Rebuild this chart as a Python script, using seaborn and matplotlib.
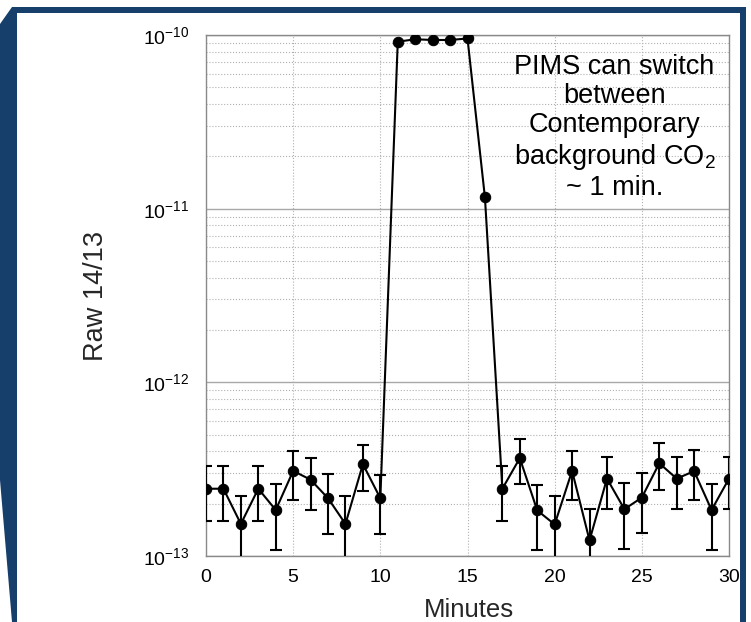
import numpy as np
import pandas as pd
import matplotlib
matplotlib.use("Agg")
import matplotlib.pyplot as plt
from matplotlib.patches import Polygon
from matplotlib.ticker import LogLocator, NullFormatter
import seaborn as sns

# Data
minutes = list(range(31))
raw_ratio = [2.44e-13, 2.44e-13, 1.53e-13, 2.44e-13, 1.84e-13, 3.09e-13, 2.75e-13,
             2.15e-13, 1.53e-13, 3.38e-13, 2.15e-13, 9.15e-11, 9.45e-11, 9.36e-11,
             9.36e-11, 9.55e-11, 1.16e-11, 2.44e-13, 3.66e-13, 1.83e-13, 1.52e-13,
             3.09e-13, 1.23e-13, 2.79e-13, 1.86e-13, 2.17e-13, 3.42e-13, 2.79e-13,
             3.08e-13, 1.84e-13, 2.79e-13]
err_high = [3.3e-13, 3.3e-13, 2.22e-13, 3.3e-13, 2.6e-13, 4.03e-13, 3.67e-13,
            2.95e-13, 2.22e-13, 4.38e-13, 2.94e-13, np.nan, np.nan, np.nan,
            np.nan, np.nan, np.nan, 3.31e-13, 4.72e-13, 2.58e-13, 2.22e-13,
            4.04e-13, 1.86e-13, 3.71e-13, 2.63e-13, 3.0e-13, 4.46e-13, 3.71e-13,
            4.06e-13, 2.59e-13, 3.71e-13]
err_low = [1.58e-13, 1.6e-13, 0.8e-13, 1.6e-13, 1.09e-13, 2.1e-13, 1.84e-13,
           1.34e-13, 0.8e-13, 2.36e-13, 1.34e-13, np.nan, np.nan, np.nan,
           np.nan, np.nan, np.nan, 1.58e-13, 2.59e-13, 1.08e-13, 0.8e-13,
           2.1e-13, 0.8e-13, 1.86e-13, 1.1e-13, 1.35e-13, 2.39e-13, 1.86e-13,
           2.1e-13, 1.09e-13, 1.86e-13]
x_ticks = [0, 5, 10, 15, 20, 25, 30]
y_ticks = [1e-13, 1e-12, 1e-11, 1e-10]

df = pd.DataFrame({"Minutes": minutes, "Raw": raw_ratio,
                   "hi": err_high, "lo": err_low})

sns.set_style("white")
plt.rcParams['font.family'] = ['Liberation Sans', 'DejaVu Sans']
plt.rcParams['mathtext.fontset'] = 'custom'
plt.rcParams['mathtext.rm'] = 'Liberation Sans'
plt.rcParams['mathtext.it'] = 'Liberation Sans'
plt.rcParams['axes.unicode_minus'] = False

W, H = 751, 622
fig = plt.figure(figsize=(W / 100, H / 100), dpi=100, facecolor="white")

# Dark blue slide frame
frame_px = [(0, 24), (12, 7), (746, 7), (746, 622), (740, 622), (740, 13),
            (17, 13), (17, 622), (12, 622), (0, 480)]
frame = Polygon([(x / W, 1 - y / H) for x, y in frame_px], closed=True,
                transform=fig.transFigure, facecolor="#173f6c", edgecolor="none")
fig.patches.append(frame)

ax = fig.add_axes([206 / W, 1 - 556 / H, (729 - 206) / W, (556 - 35) / H])
ax.set_facecolor("white")

# Error bars
sub = df[df["hi"].notna()]
ax.errorbar(sub["Minutes"], sub["Raw"],
            yerr=[sub["Raw"] - sub["lo"], sub["hi"] - sub["Raw"]],
            fmt="none", ecolor="black", elinewidth=1.5, capsize=4,
            capthick=1.5, zorder=3)

sns.lineplot(data=df, x="Minutes", y="Raw", ax=ax, color="black",
             marker="o", markersize=7.5, linewidth=1.5,
             markeredgecolor="black", zorder=4)

ax.set_yscale("log")
ax.set_ylim(1e-13, 1e-10)
ax.set_xlim(0, 30)
ax.set_xticks(x_ticks)
ax.set_yticks(y_ticks)
ax.yaxis.set_minor_locator(LogLocator(base=10, subs=np.arange(2, 10), numticks=20))
ax.yaxis.set_minor_formatter(NullFormatter())

ax.grid(True, which="major", axis="y", color="#a8a8a8", linestyle="-", linewidth=1.0)
ax.grid(True, which="minor", axis="y", color="#b0b0b0", linestyle=":", linewidth=0.8)
ax.grid(True, which="major", axis="x", color="#b0b0b0", linestyle=":", linewidth=0.8)
ax.set_axisbelow(True)

for s in ax.spines.values():
    s.set_color("#8a8a8a")
    s.set_linewidth(1.0)

ax.tick_params(axis="both", which="major", labelsize=14, direction="in",
               length=0, colors="black")
ax.tick_params(axis="x", pad=9)
ax.tick_params(axis="y", pad=12)
ax.tick_params(axis="y", which="minor", length=0)

ax.set_xlabel("Minutes", fontsize=18.5, va="center")
ax.xaxis.set_label_coords(0.503, -0.103)
ax.set_ylabel("Raw 14/13", fontsize=19.5, va="center")
ax.yaxis.set_label_coords(-0.21, 0.5)

ax.text(23.43, 0.823, "PIMS can switch\nbetween\nContemporary\nbackground CO$_2$\n~ 1 min.",
        transform=ax.get_xaxis_transform(), ha="center", va="center",
        fontsize=19.5, linespacing=1.16, color="black", multialignment="center")

fig.savefig("out.png", dpi=100, facecolor="white")
